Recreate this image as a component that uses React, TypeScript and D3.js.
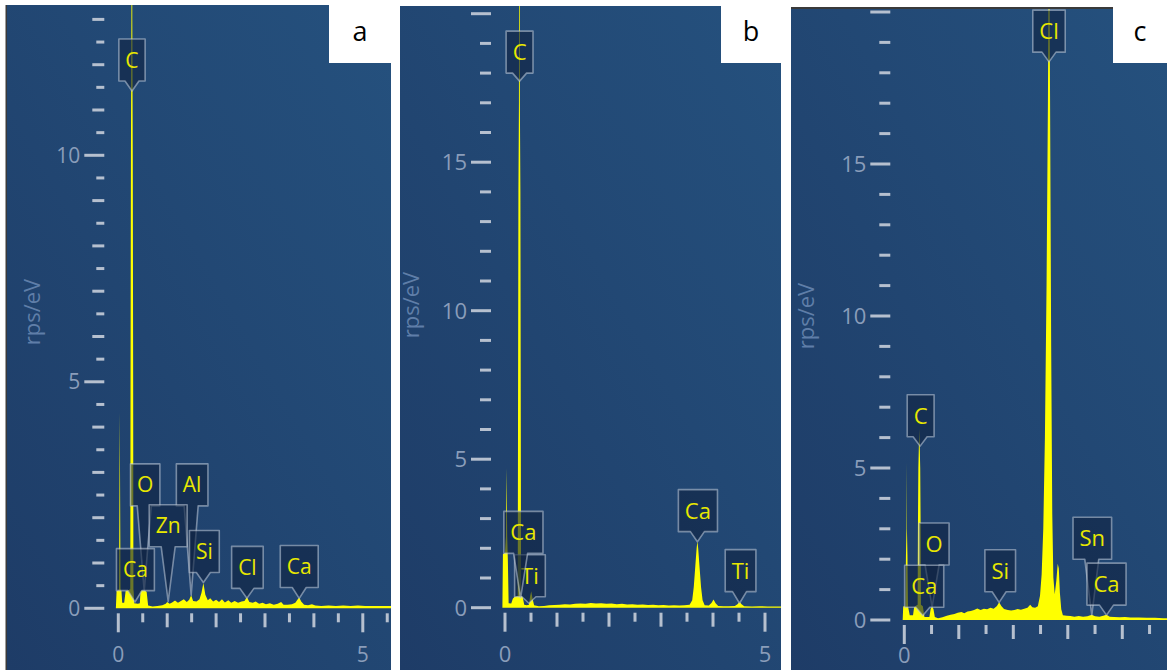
import React, { useEffect, useRef } from "react";
import * as d3 from "d3";

// EDS spectra, [energy keV, rps/eV]
const spectrumA: [number, number][] = [
  [-0.05, 0], [-0.035, 0.38], [0.0, 0.4], [0.015, 0.42], [0.03, 4.33], [0.045, 0.42], [0.065, 0.38],
  [0.08, 0.12], [0.12, 0.12], [0.15, 0.38], [0.2, 0.4], [0.245, 0.42], [0.25, 5], [0.258, 10],
  [0.268, 13], [0.277, 24], [0.286, 13], [0.296, 10], [0.304, 5], [0.309, 0.42], [0.315, 0.36],
  [0.325, 0.11], [0.4, 0.1], [0.44, 0.11], [0.455, 0.38], [0.5, 0.4], [0.55, 0.39], [0.58, 0.36],
  [0.61, 0.06], [0.7, 0.04], [0.8, 0.05], [0.9, 0.07], [0.97, 0.1], [1.0, 0.14], [1.05, 0.1],
  [1.1, 0.13], [1.16, 0.17], [1.22, 0.12], [1.28, 0.16], [1.34, 0.2], [1.4, 0.14], [1.45, 0.19],
  [1.49, 0.29], [1.53, 0.16], [1.6, 0.15], [1.66, 0.2], [1.7, 0.34], [1.74, 0.56], [1.78, 0.3],
  [1.83, 0.18], [1.88, 0.22], [1.94, 0.15], [2.0, 0.19], [2.06, 0.14], [2.12, 0.2], [2.18, 0.13],
  [2.25, 0.18], [2.31, 0.12], [2.38, 0.16], [2.45, 0.12], [2.52, 0.15], [2.58, 0.16], [2.63, 0.25],
  [2.68, 0.14], [2.75, 0.12], [2.81, 0.15], [2.88, 0.1], [2.95, 0.12], [3.02, 0.09], [3.1, 0.11],
  [3.18, 0.08], [3.26, 0.1], [3.33, 0.14], [3.38, 0.08], [3.46, 0.08], [3.55, 0.09], [3.62, 0.12],
  [3.67, 0.2], [3.7, 0.24], [3.74, 0.15], [3.8, 0.08], [3.88, 0.07], [3.96, 0.09], [4.03, 0.06],
  [4.15, 0.05], [4.3, 0.06], [4.45, 0.05], [4.6, 0.06], [4.75, 0.05], [4.9, 0.06], [5.05, 0.05],
  [5.2, 0.05], [5.4, 0.05], [5.6, 0.05],
];

const spectrumB: [number, number][] = [
  [-0.05, 0], [-0.04, 1.8], [0, 1.85], [0.018, 2.4], [0.03, 4.7], [0.042, 2.4], [0.055, 1.6],
  [0.07, 0.15], [0.12, 0.14], [0.15, 0.3], [0.18, 0.36], [0.22, 0.38], [0.245, 0.4], [0.25, 6],
  [0.258, 14], [0.268, 17], [0.277, 30], [0.286, 17], [0.296, 14], [0.304, 6], [0.309, 0.4],
  [0.34, 0.36], [0.37, 0.1], [0.42, 0.08], [0.46, 0.1], [0.485, 0.4], [0.505, 0.55], [0.53, 0.3],
  [0.56, 0.08], [0.65, 0.05], [0.75, 0.06], [0.85, 0.08], [0.95, 0.09], [1.05, 0.1], [1.15, 0.12],
  [1.25, 0.11], [1.35, 0.13], [1.45, 0.14], [1.55, 0.13], [1.65, 0.16], [1.75, 0.14], [1.85, 0.15],
  [1.95, 0.13], [2.05, 0.14], [2.15, 0.12], [2.25, 0.13], [2.35, 0.11], [2.45, 0.12], [2.55, 0.1],
  [2.65, 0.11], [2.75, 0.09], [2.85, 0.1], [2.95, 0.08], [3.05, 0.09], [3.15, 0.07], [3.25, 0.08],
  [3.35, 0.07], [3.45, 0.08], [3.55, 0.1], [3.6, 0.25], [3.63, 0.7], [3.66, 1.4], [3.685, 2.0],
  [3.7, 2.24], [3.715, 2.0], [3.74, 1.4], [3.77, 0.7], [3.8, 0.25], [3.84, 0.08], [3.92, 0.07],
  [3.97, 0.16], [4.01, 0.28], [4.05, 0.15], [4.1, 0.06], [4.2, 0.05], [4.3, 0.05], [4.42, 0.06],
  [4.47, 0.12], [4.51, 0.2], [4.55, 0.12], [4.6, 0.05], [4.75, 0.04], [4.9, 0.05], [5.05, 0.04],
  [5.2, 0.04], [5.4, 0.04],
];

const spectrumC: [number, number][] = [
  [-0.03, 0], [-0.02, 0.44], [0.0, 0.45], [0.02, 0.45], [0.03, 2.1], [0.04, 3], [0.044, 5.2],
  [0.048, 3], [0.058, 2.1], [0.068, 0.45], [0.085, 0.3], [0.1, 0.16], [0.16, 0.16], [0.18, 0.42],
  [0.22, 0.48], [0.245, 0.5], [0.25, 3], [0.258, 5], [0.268, 5.8], [0.275, 6.3], [0.282, 5.8],
  [0.292, 5], [0.3, 3], [0.305, 0.5], [0.34, 0.45], [0.37, 0.1], [0.46, 0.1], [0.485, 0.38],
  [0.51, 0.44], [0.535, 0.36], [0.56, 0.1], [0.62, 0.06], [0.7, 0.09], [0.78, 0.14], [0.85, 0.17],
  [0.92, 0.2], [0.98, 0.24], [1.05, 0.26], [1.1, 0.22], [1.16, 0.28], [1.22, 0.3], [1.28, 0.33],
  [1.34, 0.38], [1.4, 0.33], [1.46, 0.37], [1.52, 0.35], [1.58, 0.4], [1.64, 0.37], [1.7, 0.46],
  [1.74, 0.58], [1.78, 0.46], [1.83, 0.36], [1.9, 0.33], [1.96, 0.31], [2.02, 0.33], [2.08, 0.36],
  [2.14, 0.34], [2.2, 0.37], [2.26, 0.4], [2.31, 0.5], [2.35, 0.42], [2.4, 0.4], [2.45, 0.45],
  [2.49, 0.8], [2.52, 1.5], [2.55, 3.0], [2.58, 6.0], [2.61, 11], [2.635, 17], [2.655, 24],
  [2.675, 17], [2.695, 9], [2.715, 3.5], [2.735, 1.4], [2.76, 0.85], [2.79, 1.3], [2.815, 1.85],
  [2.835, 1.7], [2.855, 0.9], [2.88, 0.35], [2.91, 0.16], [2.98, 0.14], [3.05, 0.13], [3.12, 0.11],
  [3.2, 0.13], [3.28, 0.11], [3.36, 0.12], [3.44, 0.17], [3.5, 0.12], [3.58, 0.11], [3.65, 0.14],
  [3.71, 0.17], [3.77, 0.11], [3.85, 0.1], [3.95, 0.09], [4.05, 0.1], [4.15, 0.08], [4.3, 0.08],
  [4.45, 0.07], [4.6, 0.07], [4.75, 0.06], [4.9, 0.06],
];

// element markers: e/v = line energy and height it points at, be/bv = where the tag sits
const labelsA = [
  { el: "C", e: 0.28, v: 11.42, be: 0.28, bv: 11.64 },
  { el: "O", e: 0.53, v: 0.39, be: 0.55, bv: 2.26 },
  { el: "Al", e: 1.49, v: 0.29, be: 1.51, bv: 2.26 },
  { el: "Zn", e: 1.02, v: 0.15, be: 1.02, bv: 1.36 },
  { el: "Si", e: 1.74, v: 0.57, be: 1.76, bv: 0.79 },
  { el: "Cl", e: 2.63, v: 0.22, be: 2.64, bv: 0.44 },
  { el: "Ca", e: 3.7, v: 0.22, be: 3.7, bv: 0.46 },
  { el: "Ca", e: 0.34, v: 0.14, be: 0.35, bv: 0.39 },
];

const labelsB = [
  { el: "C", e: 0.28, v: 17.73, be: 0.28, bv: 18.0 },
  { el: "Ti", e: 0.46, v: 0.15, be: 0.48, bv: 0.37 },
  { el: "Ca", e: 0.3, v: 0.32, be: 0.354, bv: 1.83 },
  { el: "Ca", e: 3.7, v: 2.22, be: 3.71, bv: 2.56 },
  { el: "Ti", e: 4.51, v: 0.15, be: 4.53, bv: 0.54 },
];

const labelsC = [
  { el: "Cl", e: 2.655, v: 18.36, be: 2.655, bv: 18.68 },
  { el: "C", e: 0.29, v: 5.72, be: 0.3, bv: 6.03 },
  { el: "O", e: 0.51, v: 0.43, be: 0.545, bv: 1.81 },
  { el: "Ca", e: 0.34, v: 0.15, be: 0.365, bv: 0.42 },
  { el: "Si", e: 1.74, v: 0.58, be: 1.76, bv: 0.93 },
  { el: "Sn", e: 3.44, v: 0.16, be: 3.45, bv: 2.0 },
  { el: "Ca", e: 3.71, v: 0.16, be: 3.71, bv: 0.49 },
];

const yTickLabelsA = [0, 5, 10];
const yTickLabelsB = [0, 5, 10, 15];
const yTickLabelsC = [0, 5, 10, 15];
const xTickLabels = [0, 5];
const panelTags = ["a", "b", "c"];

const W = 1167;
const H = 670;
const FONT = "'Open Sans', 'Noto Sans', sans-serif";

const panels = [
  { spec: spectrumA, labels: labelsA, yLabels: yTickLabelsA, yMax: 13, step: 0.5,
    left: 7, top: 5, right: 391, x0: 118.3, x5: 362.8, y0: 608.3, yTop: 19.4,
    titleX: 32, titleY: 312, fs: 21, tagLeft: 329, xLabDy: 46 },
  { spec: spectrumB, labels: labelsB, yLabels: yTickLabelsB, yMax: 20, step: 1,
    left: 400, top: 6, right: 781, x0: 505, x5: 765, y0: 607.7, yTop: 13.7,
    titleX: 411, titleY: 305, fs: 22, tagLeft: 721, xLabDy: 46 },
  { spec: spectrumC, labels: labelsC, yLabels: yTickLabelsC, yMax: 20, step: 1,
    left: 791, top: 9, right: 1167, x0: 904.3, x5: 1176.8, y0: 620, yTop: 12,
    titleX: 806, titleY: 316, fs: 22, tagLeft: 1113, xLabDy: 35 },
];

export default function App() {
  const svgRef = useRef<SVGSVGElement>(null);

  useEffect(() => {
    const svg = d3.select(svgRef.current);
    svg.selectAll("*").remove();
    const defs = svg.append("defs");

    const grad = defs.append("linearGradient").attr("id", "bg")
      .attr("x1", 0).attr("y1", 1).attr("x2", 1).attr("y2", 0);
    grad.append("stop").attr("offset", "0%").attr("stop-color", "#1e3c67");
    grad.append("stop").attr("offset", "100%").attr("stop-color", "#25517e");

    panels.forEach((p, i) => {
      const x = d3.scaleLinear().domain([0, 5]).range([p.x0, p.x5]);
      const y = d3.scaleLinear().domain([0, p.yMax]).range([p.y0, p.yTop]);

      defs.append("clipPath").attr("id", `clip${i}`)
        .append("rect").attr("x", p.left).attr("y", p.top)
        .attr("width", p.right - p.left).attr("height", H - p.top);

      const g = svg.append("g").attr("clip-path", `url(#clip${i})`);
      g.append("rect").attr("x", p.left).attr("y", p.top)
        .attr("width", p.right - p.left).attr("height", H - p.top)
        .attr("fill", "url(#bg)");

      // spectrum
      const area = d3.area<[number, number]>()
        .x((d) => x(d[0])).y0(y(0)).y1((d) => y(d[1]));
      g.append("path").datum(p.spec).attr("d", area).attr("fill", "#ffff00");

      // y ticks
      const yt = d3.range(0, p.yMax + 1e-6, p.step);
      const tickRight = p.x0 - 14;
      yt.forEach((t) => {
        let len = 11;
        if (t % 5 === 0) len = 20;
        else if (p.step < 1) len = Number.isInteger(t) ? 12 : 8;
        g.append("line")
          .attr("x1", tickRight - len).attr("x2", tickRight)
          .attr("y1", y(t)).attr("y2", y(t))
          .attr("stroke", "#b6c0cf").attr("stroke-width", 3);
      });
      p.yLabels.forEach((t) => {
        g.append("text").attr("x", tickRight - 24).attr("y", y(t)).attr("dy", "0.36em")
          .attr("text-anchor", "end").attr("font-family", FONT).attr("font-size", p.fs)
          .attr("fill", "#8a9dba").text(t);
      });

      // x ticks
      const xMax = x.invert(p.right);
      d3.range(0, xMax, 0.5).forEach((t) => {
        const len = t % 5 === 0 ? 19 : Number.isInteger(t) ? 14 : 9;
        g.append("line")
          .attr("x1", x(t)).attr("x2", x(t))
          .attr("y1", p.y0 + 5).attr("y2", p.y0 + 5 + len)
          .attr("stroke", "#b6c0cf").attr("stroke-width", 3);
      });
      xTickLabels.filter((t) => x(t) < p.right - 8).forEach((t) => {
        g.append("text").attr("x", x(t)).attr("y", p.y0 + p.xLabDy).attr("dy", "0.36em")
          .attr("text-anchor", "middle").attr("font-family", FONT).attr("font-size", p.fs)
          .attr("fill", "#8a9dba").text(t);
      });

      // axis title
      g.append("text")
        .attr("transform", `translate(${p.titleX},${p.titleY}) rotate(-90)`)
        .attr("text-anchor", "middle").attr("dy", "0.36em")
        .attr("font-family", FONT).attr("font-size", 22)
        .attr("fill", "#5f7ea8").text("rps/eV");

      // element callouts
      p.labels.forEach((l) => {
        const lg = g.append("g");
        const cx = x(l.be);
        const bb = y(l.bv);
        const bh = 42;
        const bt = bb - bh;
        const txt = lg.append("text").attr("x", cx).attr("y", bt + bh / 2).attr("dy", "0.36em")
          .attr("text-anchor", "middle").attr("font-family", FONT).attr("font-size", p.fs)
          .attr("fill", "#e8e800").text(l.el);
        const tw = (txt.node() as SVGTextElement).getComputedTextLength();
        const bw = tw + 13;
        const bl = cx - bw / 2;
        const br = cx + bw / 2;
        const ax = x(l.e);
        const ay = y(l.v);
        const pc = Math.max(bl + 8, Math.min(br - 8, ax));
        let d = `M${bl},${bt}H${br}V${bb}`;
        if (ay > bb + 1) d += `H${pc + 7}L${ax},${ay}L${pc - 7},${bb}`;
        d += `H${bl}Z`;
        lg.insert("path", "text").attr("d", d)
          .attr("fill", "rgba(16,36,66,0.62)")
          .attr("stroke", "rgba(195,205,220,0.55)").attr("stroke-width", 1.6)
          .attr("stroke-linejoin", "round");
      });

      // panel tag
      svg.append("rect").attr("x", p.tagLeft).attr("y", 0)
        .attr("width", p.right - p.tagLeft).attr("height", 63).attr("fill", "#ffffff");
      svg.append("text").attr("x", (p.tagLeft + p.right) / 2).attr("y", 41)
        .attr("text-anchor", "middle").attr("font-family", FONT).attr("font-size", 27)
        .attr("fill", "#000000").text(panelTags[i]);
    });

    // screenshot edges
    svg.append("rect").attr("x", 5.5).attr("y", 5).attr("width", 1.5).attr("height", H - 5).attr("fill", "#3a3a3a");
    svg.append("rect").attr("x", 791).attr("y", 7).attr("width", 322).attr("height", 2).attr("fill", "#3a3a3a");
  }, []);

  return (
    <svg
      ref={svgRef}
      width={W}
      height={H}
      style={{ position: "absolute", left: 0, top: 0, display: "block", background: "#ffffff" }}
    />
  );
}
